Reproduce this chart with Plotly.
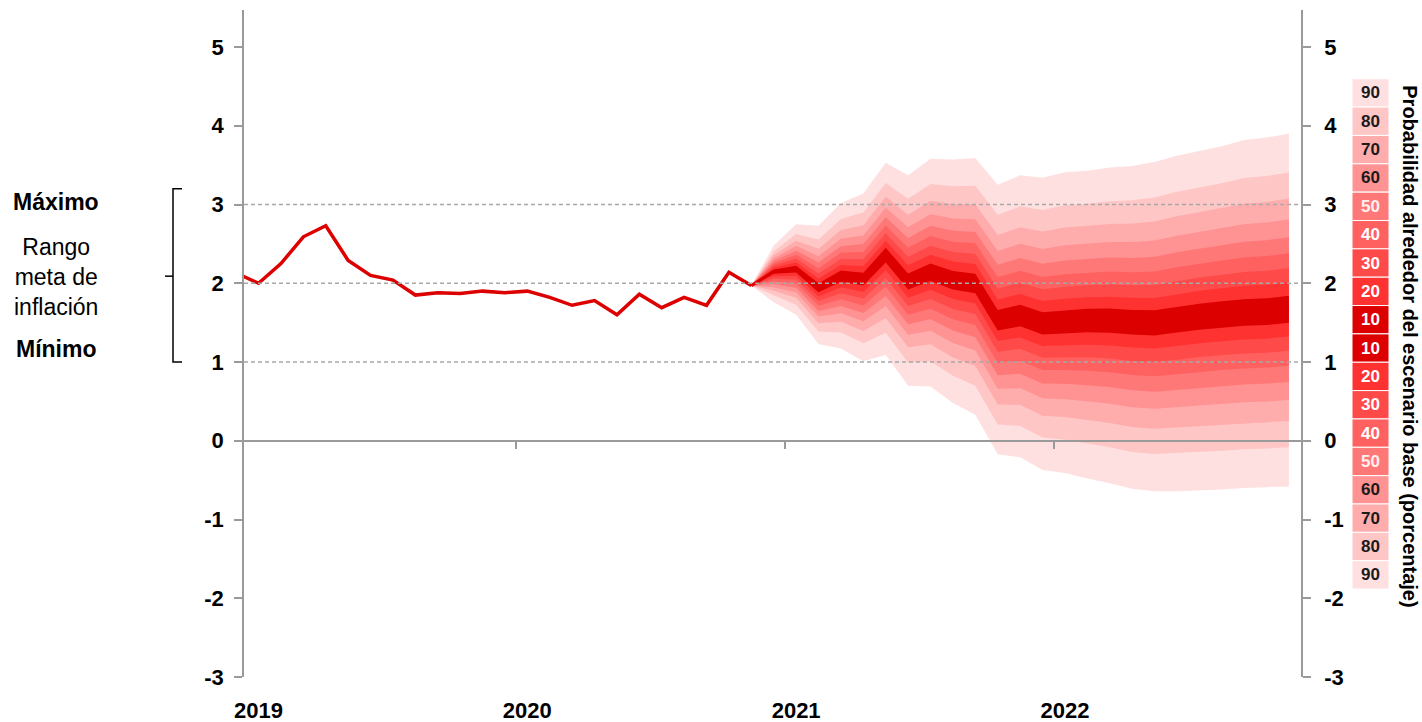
import plotly.graph_objects as go
from statistics import NormalDist

# ---------------- data ----------------
hist_months = ["2019-01", "2019-02", "2019-03", "2019-04", "2019-05", "2019-06",
               "2019-07", "2019-08", "2019-09", "2019-10", "2019-11", "2019-12",
               "2020-01", "2020-02", "2020-03", "2020-04", "2020-05", "2020-06",
               "2020-07", "2020-08", "2020-09", "2020-10", "2020-11", "2020-12"]
hist_values = [2.13, 2.00, 2.25, 2.59, 2.73, 2.29, 2.10, 2.04, 1.85, 1.88, 1.87, 1.90,
               1.88, 1.90, 1.82, 1.72, 1.78, 1.60, 1.86, 1.69, 1.82, 1.72, 2.14, 1.97]

fc_months = ["2020-12",
             "2021-01", "2021-02", "2021-03", "2021-04", "2021-05", "2021-06",
             "2021-07", "2021-08", "2021-09", "2021-10", "2021-11", "2021-12",
             "2022-01", "2022-02", "2022-03", "2022-04", "2022-05", "2022-06",
             "2022-07", "2022-08", "2022-09", "2022-10", "2022-11", "2022-12"]
fc_center = [1.97, 2.15, 2.18, 1.94, 2.09, 2.05, 2.36, 2.02, 2.14, 2.04, 2.00, 1.53, 1.59,
             1.49, 1.51, 1.53, 1.53, 1.51, 1.50, 1.54, 1.58, 1.61, 1.63, 1.64, 1.67]
fc_upper90 = [1.97, 2.48, 2.75, 2.73, 3.02, 3.14, 3.53, 3.37, 3.58, 3.57, 3.59, 3.25, 3.37,
              3.34, 3.41, 3.43, 3.47, 3.49, 3.54, 3.62, 3.68, 3.74, 3.82, 3.85, 3.90]
fc_lower90 = [1.97, 1.76, 1.60, 1.23, 1.17, 1.01, 1.09, 0.70, 0.69, 0.48, 0.33, -0.17, -0.21,
              -0.37, -0.41, -0.48, -0.54, -0.61, -0.64, -0.64, -0.63, -0.62, -0.60, -0.59, -0.58]

prob_levels = [90, 80, 70, 60, 50, 40, 30, 20, 10]
band_colors = ["#FFE0E0", "#FFC6C6", "#FFACAC", "#FF9292", "#FF7878",
               "#FF6161", "#FF4A4A", "#FF3232", "#DC0000"]
legend_text_colors = ["#1A1A1A", "#1A1A1A", "#1A1A1A", "#1A1A1A", "#FFF0F0",
                      "#FFFFFF", "#FFFFFF", "#FFFFFF", "#FFFFFF"]

year_labels = ["2019", "2020", "2021", "2022"]
year_label_months = ["2019-02", "2020-02", "2021-02", "2022-02"]
year_tick_positions = [12.5, 24.5, 36.5]
y_ticks = [-3, -2, -1, 0, 1, 2, 3, 4, 5]
y_tick_text = ["-3", "-2", "-1", "0", "1", "2", "3", "4", "5"]
target_grid = [1, 2, 3]

LINE_RED = "#DC0000"
AXIS_GREY = "#9A9A9A"
NARROW = "Liberation Sans Narrow, Arial Narrow, Liberation Sans, Arial"
SANS = "Liberation Sans, Arial"

X_RANGE = [0.35, 47.54]
Y_RANGE = [-3, 5.47]


def month_index(s):
    y, m = s.split("-")
    return (int(y) - 2019) * 12 + int(m) - 1


hx = [month_index(s) for s in hist_months]
fx = [month_index(s) for s in fc_months]

# ---------------- fan bands ----------------
nd = NormalDist()
z90 = nd.inv_cdf(0.5 + 90 / 200)

fig = go.Figure()
for p, col in zip(prob_levels, band_colors):
    r = nd.inv_cdf(0.5 + p / 200) / z90
    up = [c + (u - c) * r for c, u in zip(fc_center, fc_upper90)]
    lo = [c - (c - l) * r for c, l in zip(fc_center, fc_lower90)]
    fig.add_trace(go.Scatter(
        x=fx + fx[::-1], y=up + lo[::-1], mode="lines", fill="toself",
        fillcolor=col, line=dict(width=0, color=col), hoverinfo="skip",
        showlegend=False))

fig.add_trace(go.Scatter(x=fx, y=fc_center, mode="lines",
                         line=dict(color=LINE_RED, width=3), showlegend=False))
fig.add_trace(go.Scatter(x=hx, y=hist_values, mode="lines",
                         line=dict(color=LINE_RED, width=3.5), showlegend=False))
# dummy trace for the overlay axes (zero line with year ticks, right y axis)
fig.add_trace(go.Scatter(x=[None], y=[None], xaxis="x2", yaxis="y2",
                         showlegend=False, hoverinfo="skip"))

zero_pos = (0 - Y_RANGE[0]) / (Y_RANGE[1] - Y_RANGE[0])
tick_font = dict(family=NARROW, size=22, color="black", weight="bold")

fig.update_layout(
    width=1422, height=722,
    margin=dict(l=244, r=121, t=10, b=45, autoexpand=False),
    paper_bgcolor="white", plot_bgcolor="white",
    showlegend=False,
    xaxis=dict(range=X_RANGE, showgrid=False, zeroline=False, showline=False,
               automargin=False,
               ticks="", tickvals=[month_index(s) for s in year_label_months],
               ticktext=year_labels, ticklabelstandoff=18, tickfont=tick_font),
    xaxis2=dict(range=X_RANGE, overlaying="x", anchor="free", position=zero_pos,
                side="bottom", showgrid=False, zeroline=False, showline=True,
                automargin=False,
                linecolor=AXIS_GREY, linewidth=2, ticks="outside", ticklen=7,
                tickwidth=1.5, tickcolor=AXIS_GREY, tickvals=year_tick_positions,
                showticklabels=False),
    yaxis=dict(range=Y_RANGE, showgrid=False, zeroline=False, showline=True,
               automargin=False,
               linecolor=AXIS_GREY, linewidth=1.5, ticks="outside", ticklen=8,
               tickwidth=1.5, tickcolor=AXIS_GREY, tickvals=y_ticks,
               ticktext=y_tick_text, ticklabelstandoff=6, tickfont=tick_font),
    yaxis2=dict(range=Y_RANGE, overlaying="y", side="right", anchor="x",
                automargin=False,
                showgrid=False, zeroline=False, showline=True,
                linecolor=AXIS_GREY, linewidth=1.5, ticks="outside", ticklen=8,
                tickwidth=1.5, tickcolor=AXIS_GREY, tickvals=y_ticks,
                ticktext=y_tick_text, ticklabelstandoff=9, tickfont=tick_font),
)

# dashed target-range grid lines drawn above the fan
for g in target_grid:
    fig.add_shape(type="line", xref="paper", yref="y", x0=0, x1=1, y0=g, y1=g,
                  layer="above", line=dict(color="#A8A8A8", width=1.3, dash="4px,3px"))

# bracket and text for the inflation target range
PLOT_L, PLOT_W = 244, 1057


def px(xpix):
    return (xpix - PLOT_L) / PLOT_W


fig.add_shape(type="path", xref="paper", yref="y", layer="above",
              path=f"M {px(182)},3.2 L {px(173)},3.2 L {px(173)},1.0 L {px(182)},1.0",
              line=dict(color="black", width=1.5))
fig.add_shape(type="line", xref="paper", yref="y", x0=px(165), x1=px(173),
              y0=2.09, y1=2.09, line=dict(color="black", width=1.5))

ann_font = dict(family=SANS, size=23, color="black")
fig.add_annotation(x=px(56), y=3.03, xref="paper", yref="y", text="<b>Máximo</b>",
                   xanchor="center", yanchor="middle", showarrow=False, font=ann_font)
fig.add_annotation(x=px(56), y=2.08, xref="paper", yref="y",
                   text="Rango<br>meta de<br>inflación", showarrow=False,
                   xanchor="center", yanchor="middle", font=ann_font)
fig.add_annotation(x=px(56), y=1.16, xref="paper", yref="y", text="<b>Mínimo</b>",
                   xanchor="center", yanchor="middle", showarrow=False, font=ann_font)

# probability legend (boxes)
leg_levels = prob_levels + prob_levels[::-1]
leg_colors = band_colors + band_colors[::-1]
leg_tcolors = legend_text_colors + legend_text_colors[::-1]
box_top, box_h = 4.597, 0.36
for k, (lv, col, tcol) in enumerate(zip(leg_levels, leg_colors, leg_tcolors)):
    y0 = box_top - k * box_h
    fig.add_shape(type="rect", xref="paper", yref="y", x0=px(1352), x1=px(1389),
                  y0=y0, y1=y0 - box_h, fillcolor=col,
                  line=dict(color="white", width=1), layer="above")
    fig.add_annotation(x=px(1370.5), y=y0 - box_h / 2, xref="paper", yref="y",
                       xanchor="center", yanchor="middle",
                       text=f"<b>{lv}</b>", showarrow=False,
                       font=dict(family=SANS, size=17, color=tcol))

fig.add_annotation(x=px(1410), y=1.2, xref="paper", yref="y", textangle=90,
                   xanchor="center", yanchor="middle",
                   text="<b>Probabilidad alrededor del escenario base (porcentaje)</b>",
                   showarrow=False, font=dict(family=SANS, size=20, color="black"))

fig.write_html("out.html", config={"displayModeBar": False},
               post_script="document.body.style.margin='0';")
